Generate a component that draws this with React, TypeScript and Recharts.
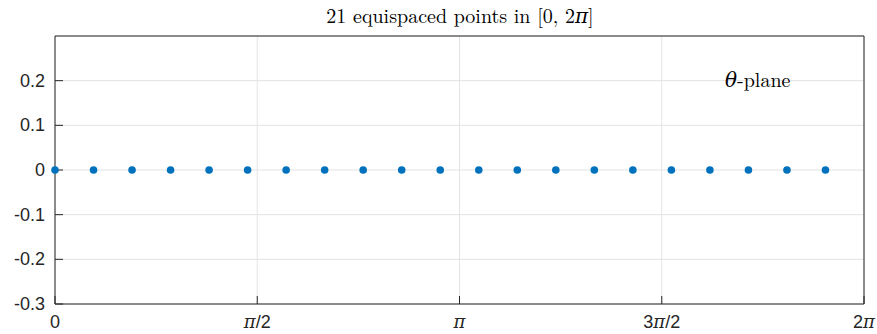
import React from 'react';
import { ScatterChart, Scatter, XAxis, YAxis, CartesianGrid } from 'recharts';

const thetaValues = [
  0, 0.2992, 0.5984, 0.8976, 1.1968, 1.496, 1.7952, 2.0944, 2.3936, 2.6928,
  2.992, 3.2912, 3.5904, 3.8896, 4.1888, 4.488, 4.7872, 5.0864, 5.3856, 5.6848, 5.984,
];
const yValues = [0, 0, 0, 0, 0, 0, 0, 0, 0, 0, 0, 0, 0, 0, 0, 0, 0, 0, 0, 0, 0];
const xTicks = [0, Math.PI / 2, Math.PI, (3 * Math.PI) / 2, 2 * Math.PI];
const xTickLabels = [['0'], ['', 'π', '/2'], ['', 'π', ''], ['3', 'π', '/2'], ['2', 'π', '']];
const yTicks = [-0.3, -0.2, -0.1, 0, 0.1, 0.2];
const titleParts = ['21 equispaced points in [0, 2', 'π', ']'];
const annotation = ['θ', '-plane'];

const data = thetaValues.map((x, i) => ({ x, y: yValues[i] }));

const AXIS = '#262626';
const SANS = '"Liberation Sans", Arial, Helvetica, sans-serif';
const SERIF = '"Latin Modern Roman", "DejaVu Serif", "Liberation Serif", serif';

const XTick = (props: any) => {
  const { x, y, index } = props;
  const parts = xTickLabels[index] || [''];
  return (
    <text x={x} y={y} dy={14} textAnchor="middle" fill={AXIS} fontSize={18} fontFamily={SANS}>
      {parts.length === 1 ? (
        parts[0]
      ) : (
        <>
          <tspan>{parts[0]}</tspan>
          <tspan fontFamily={SERIF} fontStyle="italic">{parts[1]}</tspan>
          <tspan>{parts[2]}</tspan>
        </>
      )}
    </text>
  );
};

const YTick = (props: any) => {
  const { x, y, payload } = props;
  const v = Math.round(payload.value * 10) / 10;
  return (
    <text x={x} y={y} dy={6} textAnchor="end" fill={AXIS} fontSize={18} fontFamily={SANS}>
      {v === 0 ? '0' : v.toFixed(1)}
    </text>
  );
};

const Dot = (props: any) => <circle cx={props.cx} cy={props.cy} r={3.8} fill="#0072BD" />;

export default function App() {
  return (
    <div style={{ position: 'absolute', left: 0, top: 0, width: 877, height: 334, background: '#fff', overflow: 'hidden' }}>
      <ScatterChart width={877} height={334} margin={{ top: 35, right: 12, left: 0, bottom: 0 }}>
        <CartesianGrid xAxisId="b" yAxisId="l" stroke="#e3e3e3" strokeWidth={1} />
        <XAxis
          xAxisId="b"
          dataKey="x"
          type="number"
          domain={[0, 2 * Math.PI]}
          ticks={xTicks}
          height={30}
          axisLine={{ stroke: AXIS }}
          tickLine={{ stroke: AXIS }}
          tickSize={-8}
          tickMargin={18}
          tick={<XTick />}
          interval={0}
        />
        <XAxis
          xAxisId="t"
          orientation="top"
          dataKey="x"
          type="number"
          domain={[0, 2 * Math.PI]}
          ticks={xTicks}
          height={1}
          axisLine={{ stroke: AXIS }}
          tickLine={{ stroke: AXIS }}
          tickSize={-8}
          tick={false}
          interval={0}
        />
        <YAxis
          yAxisId="l"
          dataKey="y"
          type="number"
          domain={[-0.3, 0.3]}
          ticks={yTicks}
          width={55}
          axisLine={{ stroke: AXIS }}
          tickLine={{ stroke: AXIS }}
          tickSize={-8}
          tickMargin={18}
          tick={<YTick />}
          interval={0}
        />
        <YAxis
          yAxisId="r"
          orientation="right"
          dataKey="y"
          type="number"
          domain={[-0.3, 0.3]}
          ticks={yTicks}
          width={1}
          axisLine={{ stroke: AXIS }}
          tickLine={{ stroke: AXIS }}
          tickSize={-8}
          tick={false}
          interval={0}
        />
        <Scatter
          xAxisId="b"
          yAxisId="l"
          data={data}
          shape={<Dot />}
          isAnimationActive={false}
        />
      </ScatterChart>
      <div
        style={{
          position: 'absolute',
          left: 260,
          width: 400,
          top: 3,
          textAlign: 'center',
          fontFamily: SERIF,
          fontSize: 20,
          color: '#000',
          whiteSpace: 'nowrap',
          lineHeight: '24px',
        }}
      >
        {titleParts[0]}
        <i>{titleParts[1]}</i>
        {titleParts[2]}
      </div>
      <div
        style={{
          position: 'absolute',
          left: 725,
          top: 67,
          fontFamily: SERIF,
          fontSize: 20,
          color: '#000',
          whiteSpace: 'nowrap',
          lineHeight: '24px',
        }}
      >
        <i>{annotation[0]}</i>
        {annotation[1]}
      </div>
    </div>
  );
}
